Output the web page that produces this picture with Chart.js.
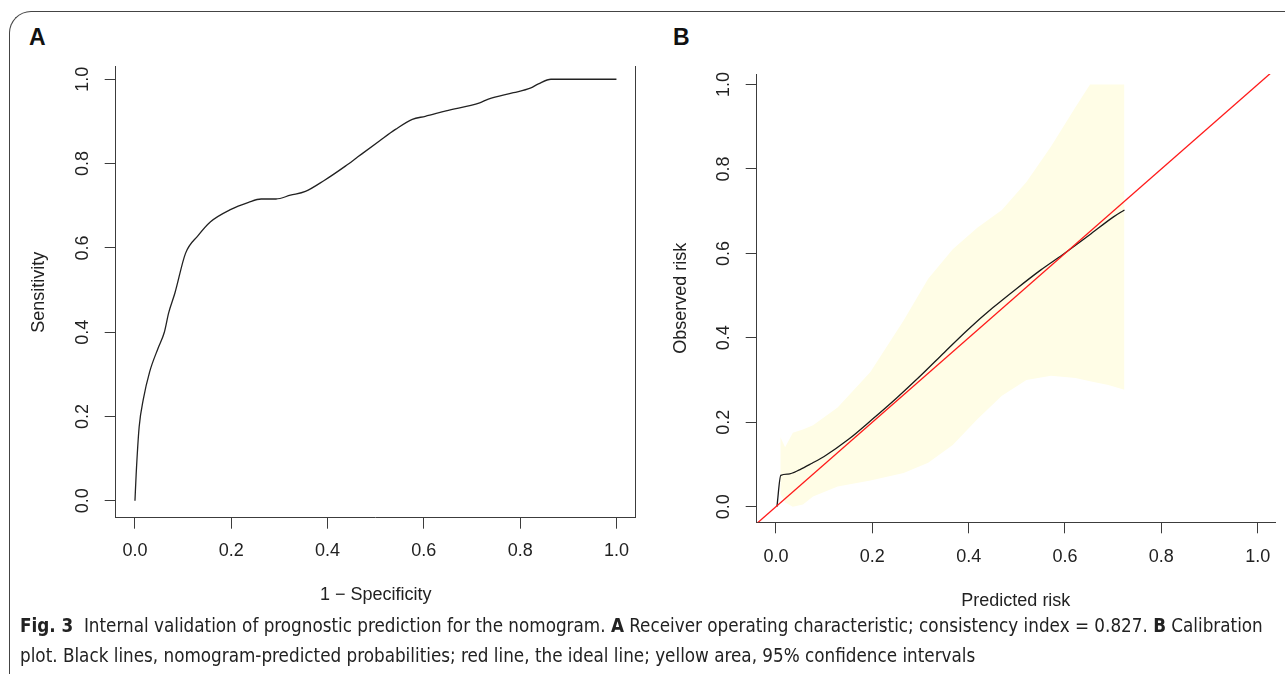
<!DOCTYPE html>
<html>
<head>
<meta charset="utf-8">
<script src="https://cdn.jsdelivr.net/npm/chart.js@4.4.1/dist/chart.umd.min.js"></script>
<style>
  html, body { margin: 0; padding: 0; background: #fff; }
  body { width: 1285px; height: 674px; position: relative; overflow: hidden; }
  .frame {
    position: absolute; left: 9px; top: 11px; width: 1400px; height: 800px;
    border-top: 1.5px solid #444; border-left: 1.5px solid #444;
    border-top-left-radius: 22px; box-sizing: border-box;
  }
  .panel-label {
    position: absolute; font: bold 23px "Liberation Sans", Arial, sans-serif; color: #111;
  }
  canvas { position: absolute; top: 0; }
  .caption {
    position: absolute; left: 20px; top: 611px; white-space: nowrap;
    font-family: "Liberation Sans Narrow", "DejaVu Sans Condensed", "Roboto Condensed", sans-serif;
    font-stretch: condensed; font-size: 18.7px; line-height: 30px; color: #222;
  }
</style>
</head>
<body>
<div class="frame"></div>
<div class="panel-label" style="left:29px; top:24px;">A</div>
<div class="panel-label" style="left:673px; top:24px;">B</div>
<canvas id="rocChart" width="645" height="612" style="left:0"></canvas>
<canvas id="calChart" width="640" height="612" style="left:645px"></canvas>
<div class="caption">
  <b>Fig. 3</b>&nbsp; Internal validation of prognostic prediction for the nomogram. <b>A</b> Receiver operating characteristic; consistency index = 0.827. <b>B</b> Calibration<br>
  plot. Black lines, nomogram-predicted probabilities; red line, the ideal line; yellow area, 95% confidence intervals
</div>
<script>
// tick labels (both panels)
const xTicks = [0, 0.2, 0.4, 0.6, 0.8, 1.0];
const yTicks = [0, 0.2, 0.4, 0.6, 0.8, 1.0];

// A: ROC curve
const rocFpr = [0, 0.0025, 0.0087, 0.0174, 0.0305, 0.048, 0.061, 0.070, 0.083, 0.105, 0.131,
  0.157, 0.197, 0.236, 0.262, 0.293, 0.323, 0.354, 0.393, 0.437, 0.463, 0.507, 0.541, 0.576,
  0.603, 0.646, 0.716, 0.734, 0.786, 0.821, 0.838, 0.864, 1.0];
const rocTpr = [0, 0.063, 0.175, 0.241, 0.306, 0.362, 0.400, 0.446, 0.493, 0.587, 0.629,
  0.662, 0.690, 0.708, 0.716, 0.716, 0.725, 0.734, 0.760, 0.794, 0.816, 0.853, 0.881, 0.905,
  0.912, 0.925, 0.944, 0.953, 0.968, 0.979, 0.989, 1.0, 1.0];

// B: calibration curve
const calPred = [0.002, 0.010, 0.025, 0.050, 0.075, 0.100, 0.150, 0.200, 0.250, 0.300, 0.350,
  0.400, 0.450, 0.500, 0.550, 0.600, 0.650, 0.700, 0.7235];
const calObs = [0.0, 0.074, 0.077, 0.088, 0.103, 0.119, 0.159, 0.207, 0.257, 0.310, 0.366,
  0.421, 0.471, 0.517, 0.561, 0.601, 0.643, 0.686, 0.703];

// B: 95% confidence band
const bandX = [0.009, 0.019, 0.035, 0.056, 0.077, 0.128, 0.196, 0.265, 0.316, 0.367, 0.418,
  0.469, 0.520, 0.571, 0.622, 0.652, 0.690, 0.7235];
const bandUpper = [0.165, 0.141, 0.175, 0.183, 0.193, 0.235, 0.319, 0.441, 0.540, 0.610, 0.661,
  0.703, 0.769, 0.853, 0.947, 1.0, 1.0, 1.0];
const bandLower = [0.030, 0.010, 0.0, 0.005, 0.024, 0.048, 0.062, 0.080, 0.104, 0.146, 0.207,
  0.263, 0.300, 0.310, 0.305, 0.297, 0.288, 0.277];

// B: ideal line
const idealX = [-0.04, 1.04];
const idealY = [-0.04, 1.04];

const toPoints = (xs, ys) => xs.map((x, i) => ({x: x, y: ys[i]}));

const AXIS_COLOR = '#3c3c3c';
const TEXT_COLOR = '#222';
const FONT = '"Liberation Sans", Arial, Helvetica, sans-serif';
const FONT_SIZE = 18;

// R-style y labels: parallel to the axis
const rotatedYLabels = {
  id: 'rotatedYLabels',
  afterDraw(chart) {
    const scale = chart.scales.y;
    const ctx = chart.ctx;
    ctx.save();
    ctx.font = FONT_SIZE + 'px ' + FONT;
    ctx.fillStyle = TEXT_COLOR;
    ctx.textAlign = 'center';
    ctx.textBaseline = 'middle';
    yTicks.forEach(v => {
      ctx.save();
      ctx.translate(scale.right - 33, scale.getPixelForValue(v));
      ctx.rotate(-Math.PI / 2);
      ctx.fillText(v.toFixed(1), 0, 0);
      ctx.restore();
    });
    ctx.restore();
  }
};

function makeChart(id, datasets, p) {
  const scales = {
    x: {
      type: 'linear',
      min: p.xMin, max: p.xMax,
      afterBuildTicks: s => { s.ticks = xTicks.map(v => ({value: v})); },
      afterFit: s => { s.height = p.xHeight; },
      grid: {drawOnChartArea: false, drawTicks: true, tickLength: 11, color: AXIS_COLOR, lineWidth: 1},
      border: {display: true, color: AXIS_COLOR, width: 1},
      ticks: {
        padding: p.xTickPad, maxRotation: 0, autoSkip: false, color: TEXT_COLOR,
        font: {family: FONT, size: FONT_SIZE},
        callback: v => v.toFixed(1)
      },
      title: {
        display: true, text: p.xTitle, color: TEXT_COLOR,
        font: {family: FONT, size: FONT_SIZE}, padding: {top: 0, bottom: p.xTitlePad}
      }
    },
    y: {
      type: 'linear',
      min: p.yMin, max: p.yMax,
      afterBuildTicks: s => { s.ticks = yTicks.map(v => ({value: v})); },
      afterFit: s => { s.width = p.yWidth; },
      grid: {drawOnChartArea: false, drawTicks: true, tickLength: 11, color: AXIS_COLOR, lineWidth: 1},
      border: {display: true, color: AXIS_COLOR, width: 1},
      ticks: {display: false},
      title: {
        display: true, text: p.yTitle, color: TEXT_COLOR,
        font: {family: FONT, size: FONT_SIZE}, padding: {top: p.yTitlePad, bottom: 0}
      }
    }
  };
  if (p.rightLine) {
    scales.y2 = {
      type: 'linear', position: 'right', min: p.yMin, max: p.yMax,
      afterFit: s => { s.width = 0; },
      grid: {display: false},
      border: {display: true, color: AXIS_COLOR, width: 1},
      ticks: {display: false}
    };
  }
  return new Chart(document.getElementById(id), {
    type: 'line',
    data: {datasets: datasets},
    options: {
      responsive: false,
      animation: false,
      layout: {padding: p.padding},
      elements: {point: {radius: 0}},
      plugins: {
        legend: {display: false},
        tooltip: {enabled: false},
        filler: {drawTime: 'beforeDatasetsDraw'}
      },
      scales: scales
    },
    plugins: [rotatedYLabels]
  });
}

makeChart('rocChart', [
  {
    data: toPoints(rocFpr, rocTpr),
    borderColor: '#222', borderWidth: 1.3, fill: false, cubicInterpolationMode: 'monotone'
  }
], {
  xMin: -0.04, xMax: 1.04, yMin: -0.04, yMax: 1.03,
  xHeight: 94.3, yWidth: 115.7,
  padding: {top: 66.6, right: 9.3, left: 0, bottom: 0},
  xTickPad: 11.5, xTitle: '1 \u2212 Specificity', xTitlePad: 6.2,
  yTitle: 'Sensitivity', yTitlePad: 28.2,
  rightLine: true
});

makeChart('calChart', [
  {
    data: toPoints(idealX, idealY),
    borderColor: '#ff1a1a', borderWidth: 1.3, fill: false
  },
  {
    data: toPoints(calPred, calObs),
    borderColor: '#1a1a1a', borderWidth: 1.3, fill: false, cubicInterpolationMode: 'monotone'
  },
  {
    data: toPoints(bandX, bandUpper),
    borderWidth: 0, borderColor: 'rgba(0,0,0,0)', backgroundColor: '#fffde6', fill: '+1'
  },
  {
    data: toPoints(bandX, bandLower),
    borderWidth: 0, borderColor: 'rgba(0,0,0,0)', fill: false
  }
], {
  xMin: -0.04, xMax: 1.036, yMin: -0.037, yMax: 1.025,
  xHeight: 89.7, yWidth: 111.7,
  padding: {top: 74, right: 10, left: 0, bottom: 0},
  xTickPad: 12.9, xTitle: 'Predicted risk', xTitlePad: 0.2,
  yTitle: 'Observed risk', yTitlePad: 25.2,
  rightLine: false
});
</script>
</body>
</html>
